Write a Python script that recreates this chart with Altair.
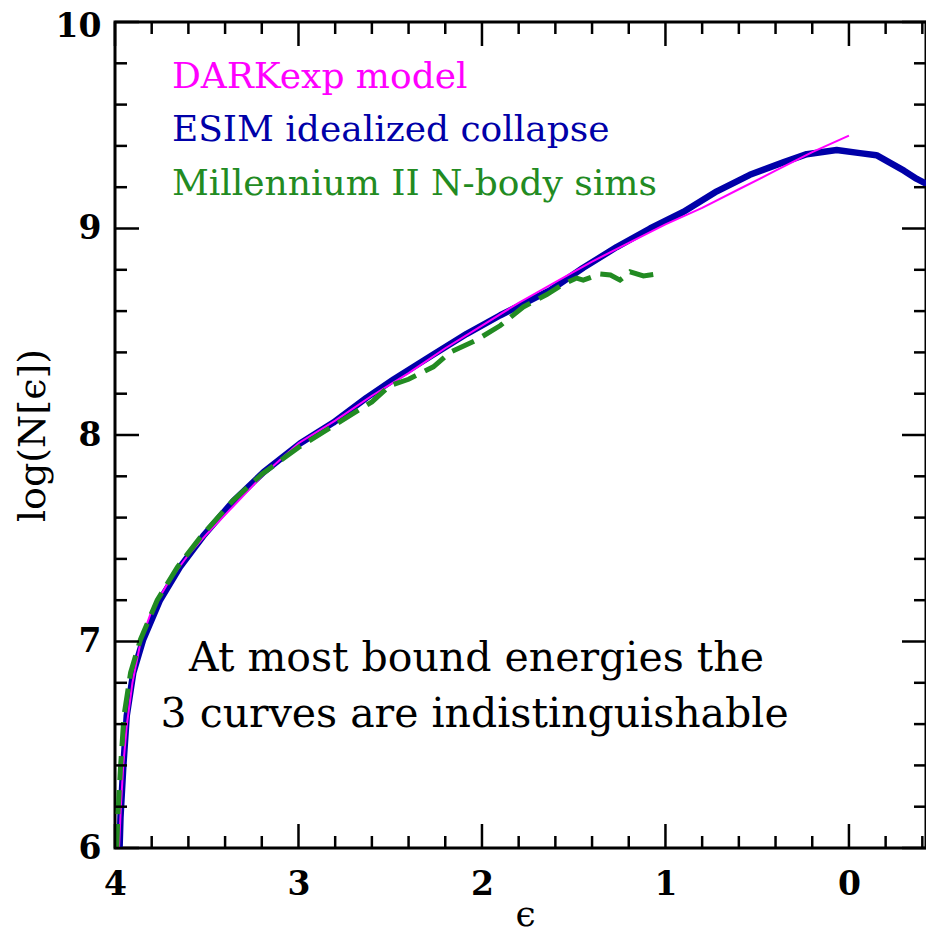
import altair as alt
import pandas as pd

# ---- data ----
dark_eps = [3.978, 3.968, 3.955, 3.935, 3.905, 3.86, 3.8, 3.7, 3.6, 3.5, 3.35, 3.2, 3.0, 2.8,
            2.6, 2.4, 2.2, 2.0, 1.8, 1.6, 1.4, 1.2, 1.0, 0.8, 0.6, 0.4, 0.2, 0.0]
dark_logn = [6.0, 6.2, 6.4, 6.6, 6.8, 7.0, 7.15, 7.3, 7.42, 7.52, 7.66, 7.8, 7.96, 8.07,
             8.19, 8.30, 8.42, 8.53, 8.64, 8.74, 8.84, 8.93, 9.02, 9.10, 9.19, 9.28, 9.37, 9.45]

esim_eps = [3.975, 3.97, 3.955, 3.936, 3.90, 3.846, 3.755, 3.646, 3.52, 3.355, 3.19, 2.99, 2.81,
            2.63, 2.48, 2.265, 2.083, 1.90, 1.81, 1.63, 1.448, 1.266, 1.084, 0.903, 0.72, 0.54,
            0.358, 0.23, 0.067, -0.06, -0.15, -0.22, -0.30, -0.37, -0.46]
esim_logn = [6.0, 6.15, 6.39, 6.64, 6.85, 7.01, 7.20, 7.36, 7.51, 7.68, 7.82, 7.96, 8.06,
             8.18, 8.27, 8.39, 8.49, 8.58, 8.62, 8.70, 8.81, 8.91, 9.00, 9.08, 9.18, 9.26,
             9.32, 9.36, 9.38, 9.365, 9.355, 9.32, 9.28, 9.24, 9.20]

mill_eps = [3.99, 3.985, 3.97, 3.951, 3.915, 3.861, 3.77, 3.66, 3.53, 3.36, 3.2, 3.0, 2.8, 2.6,
            2.5, 2.4, 2.265, 2.174, 2.03, 1.90, 1.775, 1.647, 1.557, 1.484, 1.448, 1.357, 1.30,
            1.248, 1.193, 1.12, 1.048]
mill_logn = [6.0, 6.15, 6.39, 6.64, 6.85, 7.01, 7.20, 7.36, 7.51, 7.68, 7.81, 7.94, 8.05, 8.16,
             8.24, 8.27, 8.33, 8.40, 8.46, 8.53, 8.62, 8.68, 8.73, 8.76, 8.75, 8.78, 8.775,
             8.75, 8.79, 8.77, 8.78]

x_major = [4, 3, 2, 1, 0]
x_minor = [3.8, 3.6, 3.4, 3.2, 2.8, 2.6, 2.4, 2.2, 1.8, 1.6, 1.4, 1.2, 0.8, 0.6, 0.4, 0.2, -0.2, -0.4]
y_major = [6, 7, 8, 9, 10]
y_minor = [6.2, 6.4, 6.6, 6.8, 7.2, 7.4, 7.6, 7.8, 8.2, 8.4, 8.6, 8.8, 9.2, 9.4, 9.6, 9.8]

legend_labels = ["DARKexp model", "ESIM idealized collapse", "Millennium II N-body sims"]
legend_colors = ["#ff00ff", "#0000a8", "#228b22"]
legend_eps = [3.69, 3.69, 3.69]
legend_logn = [9.735, 9.475, 9.215]

note_labels = ["At most bound energies the", "3 curves are indistinguishable"]
note_eps = [2.03, 2.04]
note_logn = [6.915, 6.645]

W, H = 811, 826
MAJ, MIN = 24, 12
FONT = "DejaVu Serif"

xs = alt.Scale(domain=[-0.42, 4], reverse=True, nice=False, zero=False)
ys = alt.Scale(domain=[6, 10], nice=False, zero=False)

xaxis = alt.Axis(values=x_major, format="d", labelFlush=False, labelPadding=20,
                 labelFont=FONT, labelFontSize=33, labelFontWeight="bold", labelColor="black",
                 title="ϵ", titleFont=FONT, titleFontSize=36, titleFontWeight="normal",
                 titleColor="black", titleX=410, titleY=66, titleBaseline="middle")
yaxis = alt.Axis(values=y_major, format="d", labelFlush=False, labelPadding=14,
                 labelOffset={"condition": {"test": "datum.value >= 10", "value": 4}, "value": 0},
                 labelFont=FONT, labelFontSize=33, labelFontWeight="bold", labelColor="black",
                 title="log(N[ϵ])", titleFont=FONT, titleFontSize=38, titleFontWeight="normal",
                 titleColor="black", titleX=-82, titleY=H / 2, titleAngle=-90,
                 titleAlign="center", titleBaseline="middle")


def line(eps, logn):
    return pd.DataFrame({"eps": eps, "logN": logn})


base_x = alt.X("eps:Q", scale=xs, axis=xaxis)
base_y = alt.Y("logN:Q", scale=ys, axis=yaxis)

esim = alt.Chart(line(esim_eps, esim_logn)).mark_line(
    color="#0000a8", strokeWidth=6.5, clip=True, strokeJoin="round").encode(x=base_x, y=base_y)
dark = alt.Chart(line(dark_eps, dark_logn)).mark_line(
    color="#ff00ff", strokeWidth=2, clip=True).encode(x=base_x, y=base_y)
mill = alt.Chart(line(mill_eps, mill_logn)).mark_line(
    color="#228b22", strokeWidth=5, strokeDash=[24, 10], clip=True).encode(x=base_x, y=base_y)


def xticks(vals, length):
    df = pd.DataFrame({"eps": vals})
    bottom = alt.Chart(df).mark_rule(color="black", strokeWidth=2.5).encode(
        x=alt.X("eps:Q", scale=xs), y=alt.value(H), y2=alt.value(H - length))
    top = alt.Chart(df).mark_rule(color="black", strokeWidth=2.5).encode(
        x=alt.X("eps:Q", scale=xs), y=alt.value(0), y2=alt.value(length))
    return [bottom, top]


def yticks(vals, length):
    df = pd.DataFrame({"logN": vals})
    left = alt.Chart(df).mark_rule(color="black", strokeWidth=2.5).encode(
        y=alt.Y("logN:Q", scale=ys), x=alt.value(0), x2=alt.value(length))
    right = alt.Chart(df).mark_rule(color="black", strokeWidth=2.5).encode(
        y=alt.Y("logN:Q", scale=ys), x=alt.value(W), x2=alt.value(W - length))
    return [left, right]


ticks = xticks(x_major, MAJ) + xticks(x_minor, MIN) + yticks(y_major, MAJ) + yticks(y_minor, MIN)

legend_df = pd.DataFrame({"eps": legend_eps, "logN": legend_logn,
                          "label": legend_labels, "col": legend_colors})
legend = alt.Chart(legend_df).mark_text(
    align="left", baseline="middle", font=FONT, fontSize=36).encode(
    x=alt.X("eps:Q", scale=xs), y=alt.Y("logN:Q", scale=ys),
    text="label:N", color=alt.Color("col:N", scale=None))

note_df = pd.DataFrame({"eps": note_eps, "logN": note_logn, "label": note_labels})
note = alt.Chart(note_df).mark_text(
    align="center", baseline="middle", font=FONT, fontSize=41, color="black").encode(
    x=alt.X("eps:Q", scale=xs), y=alt.Y("logN:Q", scale=ys), text="label:N")

chart = alt.layer(esim, dark, mill, *ticks, legend, note).properties(
    width=W, height=H,
    autosize=alt.AutoSizeParams(type="none"),
    padding={"left": 107, "top": 14, "right": 0, "bottom": 86},
).configure_view(stroke="black", strokeWidth=3).configure_axis(
    ticks=False, domain=False, grid=False)

chart.save("out.html", embed_options={"renderer": "svg", "actions": False})
